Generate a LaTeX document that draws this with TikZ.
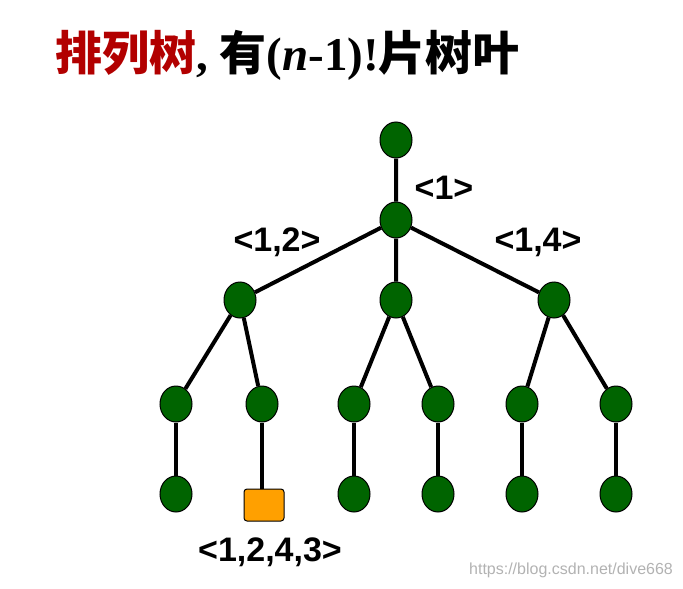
\documentclass[tikz,border=0pt]{standalone}
\usepackage{fontspec}
\setmainfont{Liberation Sans}
\newfontfamily\cjk{Noto Sans CJK SC}
\newfontfamily\tnr{Liberation Serif}
\usetikzlibrary{shapes.geometric}
\definecolor{leafg}{RGB}{0,100,0}
\definecolor{sqo}{RGB}{255,160,0}
\begin{document}
\begin{tikzpicture}[x=1pt,y=-1pt,
  leaf/.style={ellipse,draw=black,line width=1pt,fill=leafg,minimum width=32,minimum height=36,inner sep=0},
  sq/.style={draw=black,line width=1pt,fill=sqo,rounded corners=3,minimum width=40,minimum height=32,inner sep=0},
  lbl/.style={font=\fontsize{34}{34}\selectfont\bfseries},
  edge/.style={line width=4pt}]
\useasboundingbox (0,0) rectangle (683,589);
\node[anchor=west,inner sep=0] (title) at (55,55) {\fontsize{47}{47}\selectfont\color{red!70!black}\cjk\bfseries 排列树\color{black}\tnr\bfseries, \cjk 有\tnr(\textit{n}-1)!\cjk 片树叶};
\node[leaf] (r) at (396,140) {};
\node[leaf] (a) at (396,220) {};
\node[leaf] (b1) at (240,300) {};
\node[leaf] (b2) at (396,300) {};
\node[leaf] (b3) at (554,300) {};
\foreach \i/\x in {1/176,2/262,3/354,4/438,5/522,6/616}{\node[leaf] (c\i) at (\x,404) {};}
\foreach \i/\x in {1/176,3/354,4/438,5/522,6/616}{\node[leaf] (d\i) at (\x,494) {};}
\node[sq] (d2) at (264,505) {};
\draw[edge] (r)--(a) (a)--(b1) (a)--(b2) (a)--(b3)
 (b1)--(c1) (b1)--(c2) (b2)--(c3) (b2)--(c4) (b3)--(c5) (b3)--(c6);
\foreach \i in {1,3,4,5,6}{\draw[edge] (c\i)--(d\i);}
\draw[edge] (c2.south) -- (c2.south |- d2.north);
\node[lbl] (l1) at (444,188) {<1>};
\node[lbl] (l2) at (277,242) {<1,2>};
\node[lbl] (l3) at (538,242) {<1,4>};
\node[lbl] (l4) at (270,552) {<1,2,4,3>};
\node[text=gray!60,font=\fontsize{16}{16}\selectfont] (wm) at (571,570) {https://blog.csdn.net/dive668};
\end{tikzpicture}
\end{document}
